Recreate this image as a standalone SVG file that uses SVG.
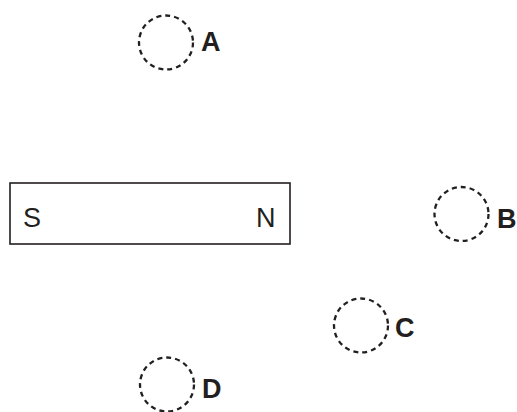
<svg xmlns="http://www.w3.org/2000/svg" width="517" height="412" viewBox="0 0 517 412">
<style>
.c{fill:none;stroke:#231f20;stroke-width:2.3;stroke-dasharray:5 4}
.l{font-family:"Liberation Sans",Arial,sans-serif;font-weight:bold;font-size:27px;fill:#231f20}
.p{font-family:"Liberation Sans",Arial,sans-serif;font-size:27px;fill:#231f20}
</style>
<rect width="517" height="412" fill="#fff"/>
<g id="magnet">
<rect x="10" y="183" width="280" height="61" fill="#fff" stroke="#231f20" stroke-width="1.6"/>
<text class="p" x="23" y="227">S</text>
<text class="p" x="256" y="227">N</text>
</g>
<g id="A"><circle class="c" cx="166" cy="42.5" r="27"/><text class="l" x="201" y="51">A</text></g>
<g id="B"><circle class="c" cx="461.5" cy="214" r="27"/><text class="l" x="497" y="228">B</text></g>
<g id="C"><circle class="c" cx="361" cy="325.5" r="27"/><text class="l" x="395" y="337">C</text></g>
<g id="D"><circle class="c" cx="167" cy="384.5" r="27"/><text class="l" x="202" y="398">D</text></g>
<g id="connectors"/>
</svg>
